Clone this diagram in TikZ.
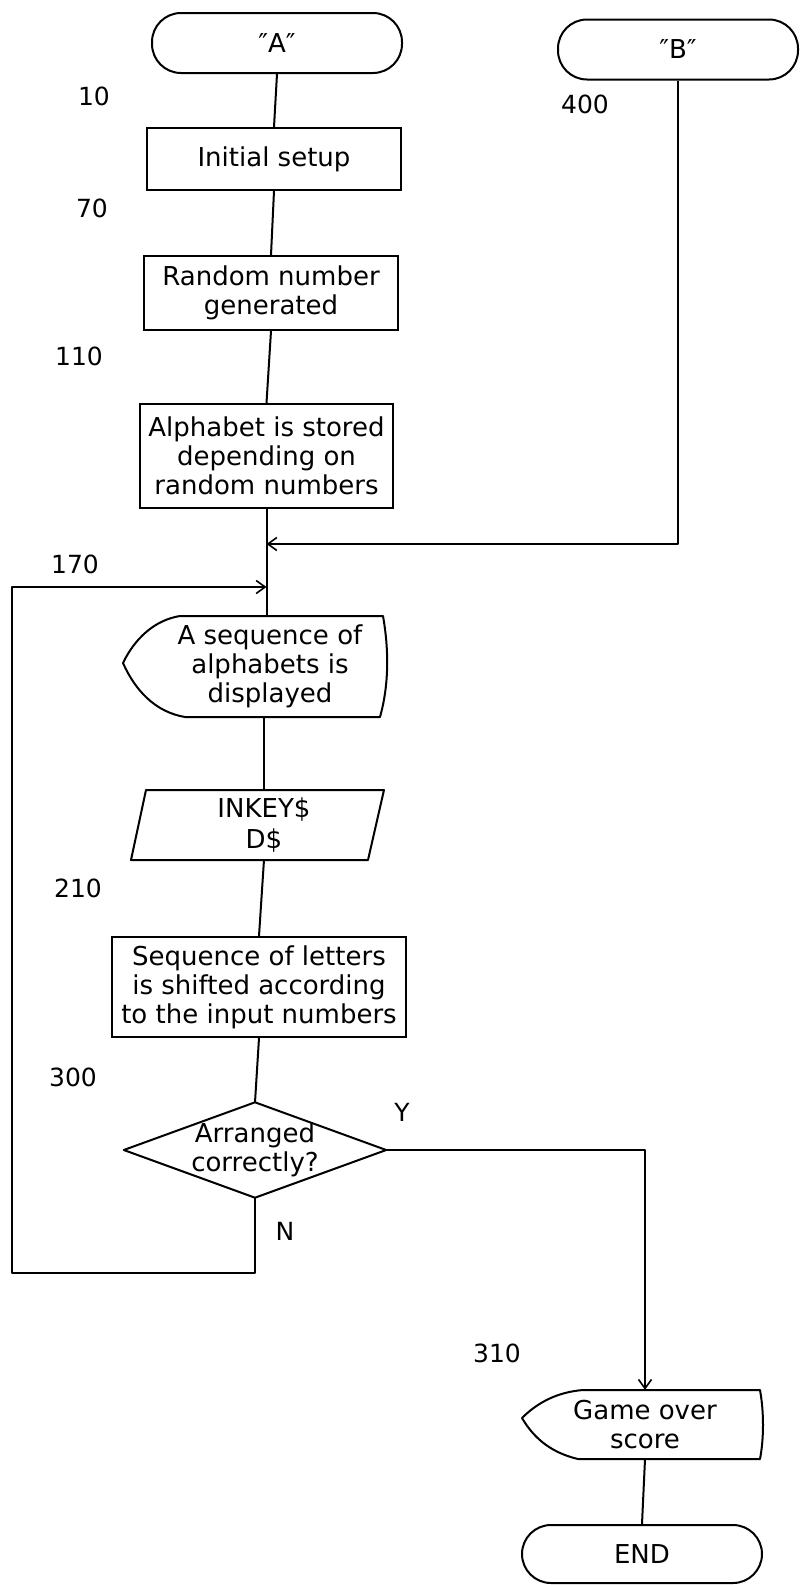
\documentclass[tikz,border=0pt]{standalone}
\usepackage{fontspec}
\setmainfont{DejaVu Sans}
\usetikzlibrary{arrows.meta}
\begin{document}
\begin{tikzpicture}[x=1pt,y=1pt,
  every node/.style={font=\fontsize{26}{29}\selectfont, align=center, inner sep=0pt},
  flow/.style={line width=2pt, line join=round},
  arr/.style={flow, -{Straight Barb[length=9pt,width=13pt,line width=1.6pt]}},
  stepbox/.style={draw, line width=2pt, minimum width=#1},
  term/.style={draw, line width=2pt, rounded corners=29pt, minimum height=60pt, minimum width=#1},
  txt/.style={minimum height=#1},
  lab/.style={font=\fontsize{25}{28}\selectfont},
]
\useasboundingbox (0,0) rectangle (801,-1585);

% terminals and process boxes
\node[term=250pt] (A) at (277,-43) {″A″};
\node[term=240pt] (B) at (678,-49.5) {″B″};
\node[stepbox=254pt, minimum height=62pt] (init) at (274,-159) {Initial setup};
\node[stepbox=254pt, minimum height=74pt] (rand) at (271,-293) {Random number\\generated};
\node[stepbox=253pt, minimum height=104pt] (alph) at (266.5,-456) {Alphabet is stored\\depending on\\random numbers};

% display shape
\node[txt=101pt] (disp) at (270,-666.5) {A sequence of\\alphabets is\\displayed};
\draw[flow] (180,-616) -- (383,-616) .. controls (389,-650) and (389,-685) .. (380,-717)
  -- (185,-717) .. controls (155,-712) and (135,-690) .. (123,-663)
  .. controls (135,-638) and (155,-620) .. (180,-616) -- cycle;

% input parallelogram
\node[txt=69pt, font=\fontsize{26}{31}\selectfont] (inkey) at (264,-825) {INKEY\$\\D\$};
\draw[flow] (146,-790) -- (384,-790) -- (368,-860) -- (131,-860) -- cycle;

\node[stepbox=294pt, minimum height=100pt] (seq) at (259,-987) {Sequence of letters\\is shifted according\\to the input numbers};

% decision
\node[minimum width=262pt, minimum height=95pt] (dia) at (255,-1150) {Arranged\\correctly?};
\draw[flow] (dia.north) -- (dia.east) -- (dia.south) -- (dia.west) -- cycle;

% game over display
\node[txt=69pt] (go) at (645,-1424.5) {Game over\\score};
\draw[flow] (583,-1390) -- (760,-1390) .. controls (764,-1412) and (764,-1438) .. (760,-1459)
  -- (578,-1459) .. controls (548,-1452) and (532,-1435) .. (522,-1418)
  .. controls (538,-1402) and (558,-1392) .. (583,-1390) -- cycle;

\node[term=240pt, minimum height=58pt] (end) at (642,-1554) {END};

% line numbers
\node[lab] (n10) at (94,-96) {10};
\node[lab] (n70) at (92,-208) {70};
\node[lab] (n110) at (79,-356) {110};
\node[lab] (n170) at (75,-564) {170};
\node[lab] (n210) at (78,-888) {210};
\node[lab] (n300) at (73,-1077) {300};
\node[lab] (n310) at (497,-1353) {310};
\node[lab] (n400) at (585,-104) {400};
\node[lab] (ly) at (402,-1112) {Y};
\node[lab] (ln) at (285,-1231) {N};

% join points
\path (alph.south) ++(0,-35) coordinate (bj);
\path (alph.south) ++(0,-78) coordinate (lj);
\coordinate (lb) at (12,-1273);

% connectors
\draw[flow] (A.south) -- (init.north);
\draw[flow] (init.south) -- (rand.north);
\draw[flow] (rand.south) -- (alph.north);
\draw[flow] (alph.south) -- (alph.south |- disp.north);
\draw[arr] (B.south) |- (bj);
\draw[arr] (dia.south) -- (dia.south |- lb) -- (lb) -- (lb |- lj) -- (lj);
\draw[flow] (inkey.north |- disp.south) -- (inkey.north);
\draw[flow] (inkey.south) -- (seq.north);
\draw[flow] (seq.south) -- (dia.north);
\draw[arr] (dia.east) -- (dia.east -| go.north) -- (go.north);
\draw[flow] (go.south) -- (end.north);
\end{tikzpicture}
\end{document}
